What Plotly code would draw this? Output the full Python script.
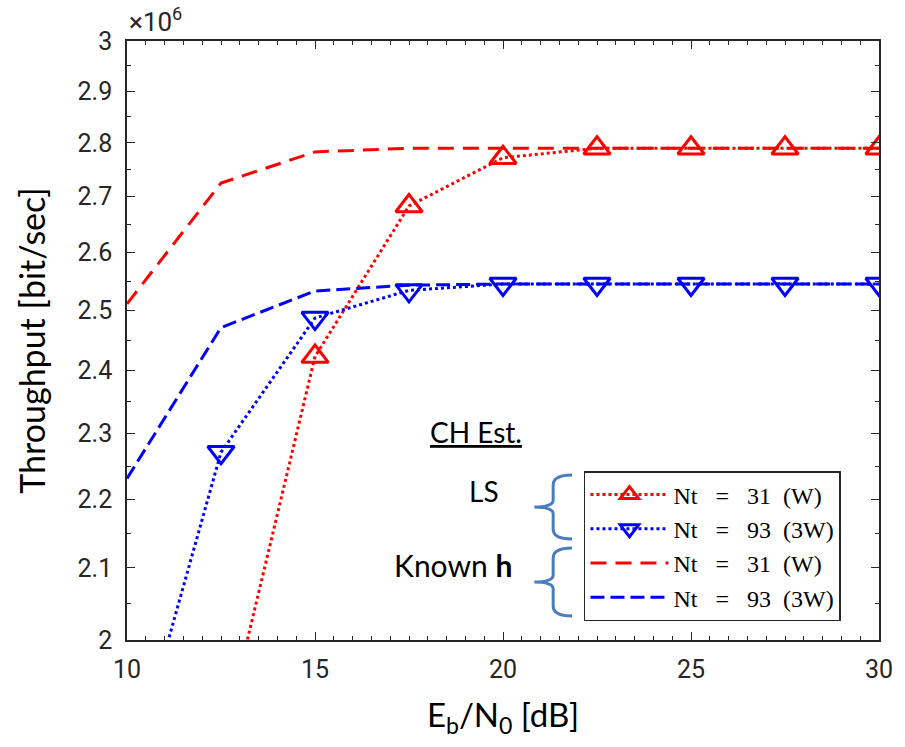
import plotly.graph_objects as go

# ---------------- data ----------------
ebn0_ls31 = [12.5, 15, 17.5, 20, 22.5, 25, 27.5, 30]
thr_ls31 = [1.856e6, 2.423e6, 2.683e6, 2.772e6, 2.790e6, 2.790e6, 2.790e6, 2.790e6]

ebn0_ls93 = [10, 12.5, 15, 17.5, 20, 22.5, 25, 27.5, 30]
thr_ls93 = [1.81e6, 2.271e6, 2.487e6, 2.534e6, 2.545e6, 2.545e6, 2.545e6, 2.545e6, 2.545e6]

ebn0_known = [10, 12.5, 15, 17.5, 20, 22.5, 25, 27.5, 30]
thr_known31 = [2.511e6, 2.725e6, 2.783e6, 2.790e6, 2.790e6, 2.790e6, 2.790e6, 2.790e6, 2.790e6]
thr_known93 = [2.231e6, 2.471e6, 2.533e6, 2.543e6, 2.545e6, 2.545e6, 2.545e6, 2.545e6, 2.545e6]

NB = "\u00a0"
series_names = [
    f"Nt{NB}{NB}{NB}={NB}{NB}{NB}31{NB}{NB}(W)",
    f"Nt{NB}{NB}{NB}={NB}{NB}{NB}93{NB}{NB}(3W)",
    f"Nt{NB}{NB}{NB}={NB}{NB}{NB}31{NB}{NB}(W)",
    f"Nt{NB}{NB}{NB}={NB}{NB}{NB}93{NB}{NB}(3W)",
]

x_tickvals = [10, 15, 20, 25, 30]
y_tickvals = [2.0e6, 2.1e6, 2.2e6, 2.3e6, 2.4e6, 2.5e6, 2.6e6, 2.7e6, 2.8e6, 2.9e6, 3.0e6]
y_ticktext = ["2", "2.1", "2.2", "2.3", "2.4", "2.5", "2.6", "2.7", "2.8", "2.9", "3"]
y_minor = [2.05e6, 2.15e6, 2.25e6, 2.35e6, 2.45e6, 2.55e6, 2.65e6, 2.75e6, 2.85e6, 2.95e6]

# ---------------- layout geometry ----------------
W, H = 905, 747
L, R, T, B = 127, 884, 41, 640


def px(x):
    return (x - L) / (R - L)


def py(y):
    return (B - y) / (B - T)


RED = "#ff0000"
BLUE = "#0000ff"
AX = "#262626"
NARROW = "Liberation Sans Narrow, Roboto, Arial"
HUMAN = "Lato, Open Sans, Arial"
TICKFONT = dict(family=NARROW, size=25, color=AX)
LEGFONT = dict(family="Liberation Serif, DejaVu Serif, serif", size=24, color="black")

fig = go.Figure()

fig.add_trace(go.Scatter(
    x=ebn0_ls31, y=thr_ls31, name=series_names[0], mode="lines+markers",
    line=dict(color=RED, width=3, dash="dot"),
    marker=dict(symbol="triangle-up-open", size=23, color=RED, line=dict(width=3, color=RED)),
))
fig.add_trace(go.Scatter(
    x=ebn0_ls93, y=thr_ls93, name=series_names[1], mode="lines+markers",
    line=dict(color=BLUE, width=3, dash="dot"),
    marker=dict(symbol="triangle-down-open", size=23, color=BLUE, line=dict(width=3, color=BLUE)),
))
fig.add_trace(go.Scatter(
    x=ebn0_known, y=thr_known31, name=series_names[2], mode="lines",
    line=dict(color=RED, width=3, dash="16px,9px"),
))
fig.add_trace(go.Scatter(
    x=ebn0_known, y=thr_known93, name=series_names[3], mode="lines",
    line=dict(color=BLUE, width=3, dash="14px,6px"),
))

fig.update_xaxes(
    range=[10, 30], tickvals=x_tickvals,
    ticks="inside", ticklen=8, tickwidth=1, tickcolor=AX,
    minor=dict(dtick=0.5, ticks="inside", ticklen=4, tickcolor=AX),
    showline=True, linecolor=AX, linewidth=1.5, mirror="ticks",
    showgrid=False, zeroline=False, tickfont=TICKFONT, ticklabelstandoff=6,
    title=dict(text="E<sub>b</sub>/N<sub>0</sub> [dB]",
               font=dict(family=HUMAN, size=33, color="black"),
               standoff=21),
)
fig.update_yaxes(
    type="log", range=[6.30103, 6.47712],
    tickvals=y_tickvals, ticktext=y_ticktext,
    ticks="inside", ticklen=8, tickwidth=1, tickcolor=AX,
    minor=dict(tickvals=y_minor, ticks="inside", ticklen=4, tickcolor=AX),
    showline=True, linecolor=AX, linewidth=1.5, mirror="ticks",
    showgrid=False, zeroline=False, tickfont=TICKFONT, ticklabelstandoff=8,
    title=dict(text="Throughput [bit/sec]",
               font=dict(family=HUMAN, size=34, color="black"),
               standoff=22),
)

fig.update_layout(
    width=W, height=H,
    margin=dict(l=L, r=W - R, t=T, b=H - B),
    plot_bgcolor="white", paper_bgcolor="white",
    legend=dict(
        x=px(587), y=py(471), xanchor="left", yanchor="top",
        bgcolor="white", bordercolor=AX, borderwidth=1.5,
        font=LEGFONT, itemwidth=78, tracegroupgap=0,
    ),
)

# x10^6 exponent label
fig.add_annotation(x=px(127), y=py(39), xref="paper", yref="paper",
                   text="×10<sup>6</sup>", showarrow=False, xanchor="left", yanchor="bottom",
                   font=dict(family=NARROW, size=26, color=AX))

ANNFONT = dict(family=HUMAN, size=28, color="black")
fig.add_annotation(x=px(478), y=py(451), xref="paper", yref="paper",
                   text="<u>CH Est.</u>", showarrow=False, font=ANNFONT)
fig.add_annotation(x=px(486), y=py(510), xref="paper", yref="paper",
                   text="LS", showarrow=False, font=ANNFONT)
fig.add_annotation(x=px(517), y=py(585), xref="paper", yref="paper", xanchor="right",
                   text="Known <b>h</b>", showarrow=False, font=dict(family=HUMAN, size=30, color="black"))


def brace(top, bot, tip_x, mid_x, right_x):
    mid = (top + bot) / 2
    pts = [
        ("M", [(right_x, top)]),
        ("Q", [(mid_x, top), (mid_x, top + 10)]),
        ("L", [(mid_x, mid - 7)]),
        ("Q", [(mid_x, mid), (tip_x, mid)]),
        ("Q", [(mid_x, mid), (mid_x, mid + 7)]),
        ("L", [(mid_x, bot - 10)]),
        ("Q", [(mid_x, bot), (right_x, bot)]),
    ]
    s = ""
    for cmd, ps in pts:
        s += cmd + " " + " ".join(f"{px(a):.5f},{py(b):.5f}" for a, b in ps) + " "
    return s.strip()


for top, bot in [(475, 539), (548, 616)]:
    fig.add_shape(type="path", xref="paper", yref="paper",
                  path=brace(top, bot, 537, 556, 575),
                  line=dict(color="#4a7ebb", width=3))

fig.write_html("out.html")
